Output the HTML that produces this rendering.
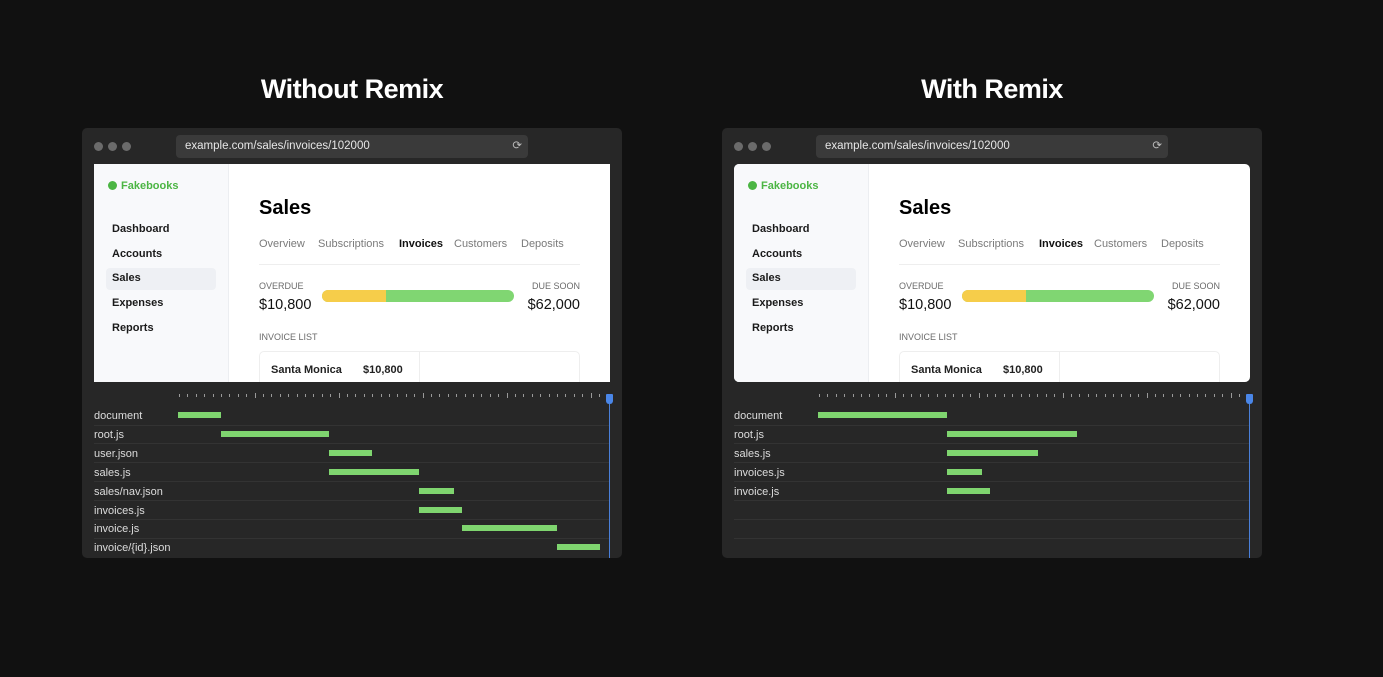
<!DOCTYPE html>
<html><head><meta charset="utf-8"><style>
*{box-sizing:border-box;margin:0;padding:0}
body{width:1383px;height:677px;background:#111111;overflow:hidden;font-family:"Liberation Sans",sans-serif;position:relative}
.abs{position:absolute}
.title{color:#fff;font-weight:bold;font-size:27px;width:540px;text-align:center;top:74px;letter-spacing:-0.5px}
.win{width:540px;height:430px;top:128px;background:#272727;border-radius:5px;overflow:hidden}
.dot{width:9px;height:9px;border-radius:50%;background:#6b6b6b;top:14px}
.url{left:94px;top:7px;width:352px;height:23px;background:#3a3a3a;border-radius:4px;color:#e6e6e6;font-size:11.5px;line-height:23px;padding-left:9px}
.content{left:12px;top:36px;width:516px;height:218px;background:#fff;overflow:hidden}
.side{left:0;top:0;width:135px;height:218px;background:#f8f9fb;border-right:1px solid #eceef1}
.nav{left:18px;font-size:11px;font-weight:bold;color:#1a1a1a}
.tab{top:74px;font-size:11px;color:#7a7a7a}
.lbl{font-size:9px;color:#6b6b6b}
.amt{font-size:14.5px;color:#111}
.rowlbl{left:12px;font-size:11px;color:#dcdcdc}
.sep{left:12px;width:515px;height:1px;background:#333}
.bar{height:6px;background:#7fd56f}
.tick{width:1px;background:#9a9a9a}
</style></head><body>
<div class="abs title" style="left:82px">Without Remix</div>
<div class="abs title" style="left:722px">With Remix</div>
<div id="p1" class="abs win" style="left:82px"></div>
<div id="p2" class="abs win" style="left:722px"></div>
<script>
const rowsA = ["document","root.js","user.json","sales.js","sales/nav.json","invoices.js","invoice.js","invoice/{id}.json"];
const startsA = [0,10,35,35,56,56,66,88];
const endsA = [10,35,45,56,64,66,88,98];
const rowsB = ["document","root.js","sales.js","invoices.js","invoice.js"];
const startsB = [0,30,30,30,30];
const endsB = [30,60,51,38,40];
const domainMax = 100;
function xScale(v){return 96 + v/domainMax*431;}
function rowY(i){return 287 + i*18.9;}

function build(id, rows, starts, ends, rounded){
  const p=document.getElementById(id);
  let h='';
  [12,26,40].forEach((x,i)=>{h+=`<div class="abs dot" style="left:${x}px"></div>`;});
  h+=`<div class="abs url">example.com/sales/invoices/102000<span style="position:absolute;right:6px;color:#bbb">⟳</span></div>`;
  h+=`<div class="abs content" style="${rounded?'border-radius:5px':''}">
   <div class="abs side"></div>
   <div class="abs" style="left:14px;top:16px;font-size:11px;font-weight:bold;color:#4bb543"><span style="display:inline-block;width:9px;height:9px;border-radius:50%;background:#4bb543;margin-right:4px;vertical-align:-1px"></span>Fakebooks</div>
   <div class="abs" style="left:12px;top:104px;width:110px;height:22px;background:#eef0f4;border-radius:4px"></div>
   <div class="abs nav" style="top:59px">Dashboard</div>
   <div class="abs nav" style="top:84px">Accounts</div>
   <div class="abs nav" style="top:108px">Sales</div>
   <div class="abs nav" style="top:133px">Expenses</div>
   <div class="abs nav" style="top:158px">Reports</div>
   <div class="abs" style="left:165px;top:33px;font-size:20px;font-weight:bold;color:#000">Sales</div>
   <div class="abs tab" style="left:165px">Overview</div>
   <div class="abs tab" style="left:224px">Subscriptions</div>
   <div class="abs tab" style="left:305px;color:#111;font-weight:bold">Invoices</div>
   <div class="abs tab" style="left:360px">Customers</div>
   <div class="abs tab" style="left:427px">Deposits</div>
   <div class="abs" style="left:165px;top:100px;width:321px;height:1px;background:#eee"></div>
   <div class="abs lbl" style="left:165px;top:117px">OVERDUE</div>
   <div class="abs amt" style="left:165px;top:133px">$10,800</div>
   <div class="abs lbl" style="right:30px;top:117px">DUE SOON</div>
   <div class="abs amt" style="right:30px;top:133px">$62,000</div>
   <div class="abs" style="left:228px;top:126px;width:192px;height:12px;border-radius:6px;background:#80d672;overflow:hidden"><div style="width:64px;height:12px;background:#f6cd4a"></div></div>
   <div class="abs lbl" style="left:165px;top:168px">INVOICE LIST</div>
   <div class="abs" style="left:165px;top:187px;width:321px;height:60px;border:1px solid #eee;border-radius:5px"><div style="position:absolute;left:159px;top:0;width:1px;height:60px;background:#eee"></div></div>
   <div class="abs" style="left:177px;top:200px;font-size:11px;font-weight:bold;color:#222">Santa Monica</div>
   <div class="abs" style="left:269px;top:200px;font-size:11px;font-weight:bold;color:#222">$10,800</div>
  </div>`;
  p.innerHTML=h;
  for(let i=0;i<52;i++){
    const t=document.createElement('div');
    t.className='abs tick';
    
    
    const major=(i%10===9);
    t.style.left=(97+i*8.4)+'px';t.style.top=(major?265:266)+'px';t.style.height=(major?5:3)+'px';
    p.appendChild(t);
  }
  for(let i=0;i<7;i++){
    const s=document.createElement('div');s.className='abs sep';
    
    
    s.style.top=(rowY(i)+9.5)+'px';p.appendChild(s);
  }
  rows.forEach((r,i)=>{
    const l=document.createElement('div');l.className='abs rowlbl';
    
    
    l.textContent=r;l.style.top=(rowY(i)-5)+'px';p.appendChild(l);
    const b=document.createElement('div');b.className='abs bar';
    
    
    b.style.left=xScale(starts[i])+'px';b.style.width=(xScale(ends[i])-xScale(starts[i]))+'px';
    b.style.top=(rowY(i)-3)+'px';p.appendChild(b);
  });
  const c=document.createElement('div');c.className='abs';
  
  
  c.style.cssText='left:527px;top:266px;width:1px;height:170px;background:#4a7fd8';p.appendChild(c);
  const hd=document.createElement('div');hd.className='abs';
  
  
  hd.style.cssText='left:524px;top:266px;width:7px;height:10px;background:#4a86e8;border-radius:1px 1px 3px 3px';p.appendChild(hd);
}
build('p1',rowsA,startsA,endsA,false);
build('p2',rowsB,startsB,endsB,true);
</script>
</body></html>
